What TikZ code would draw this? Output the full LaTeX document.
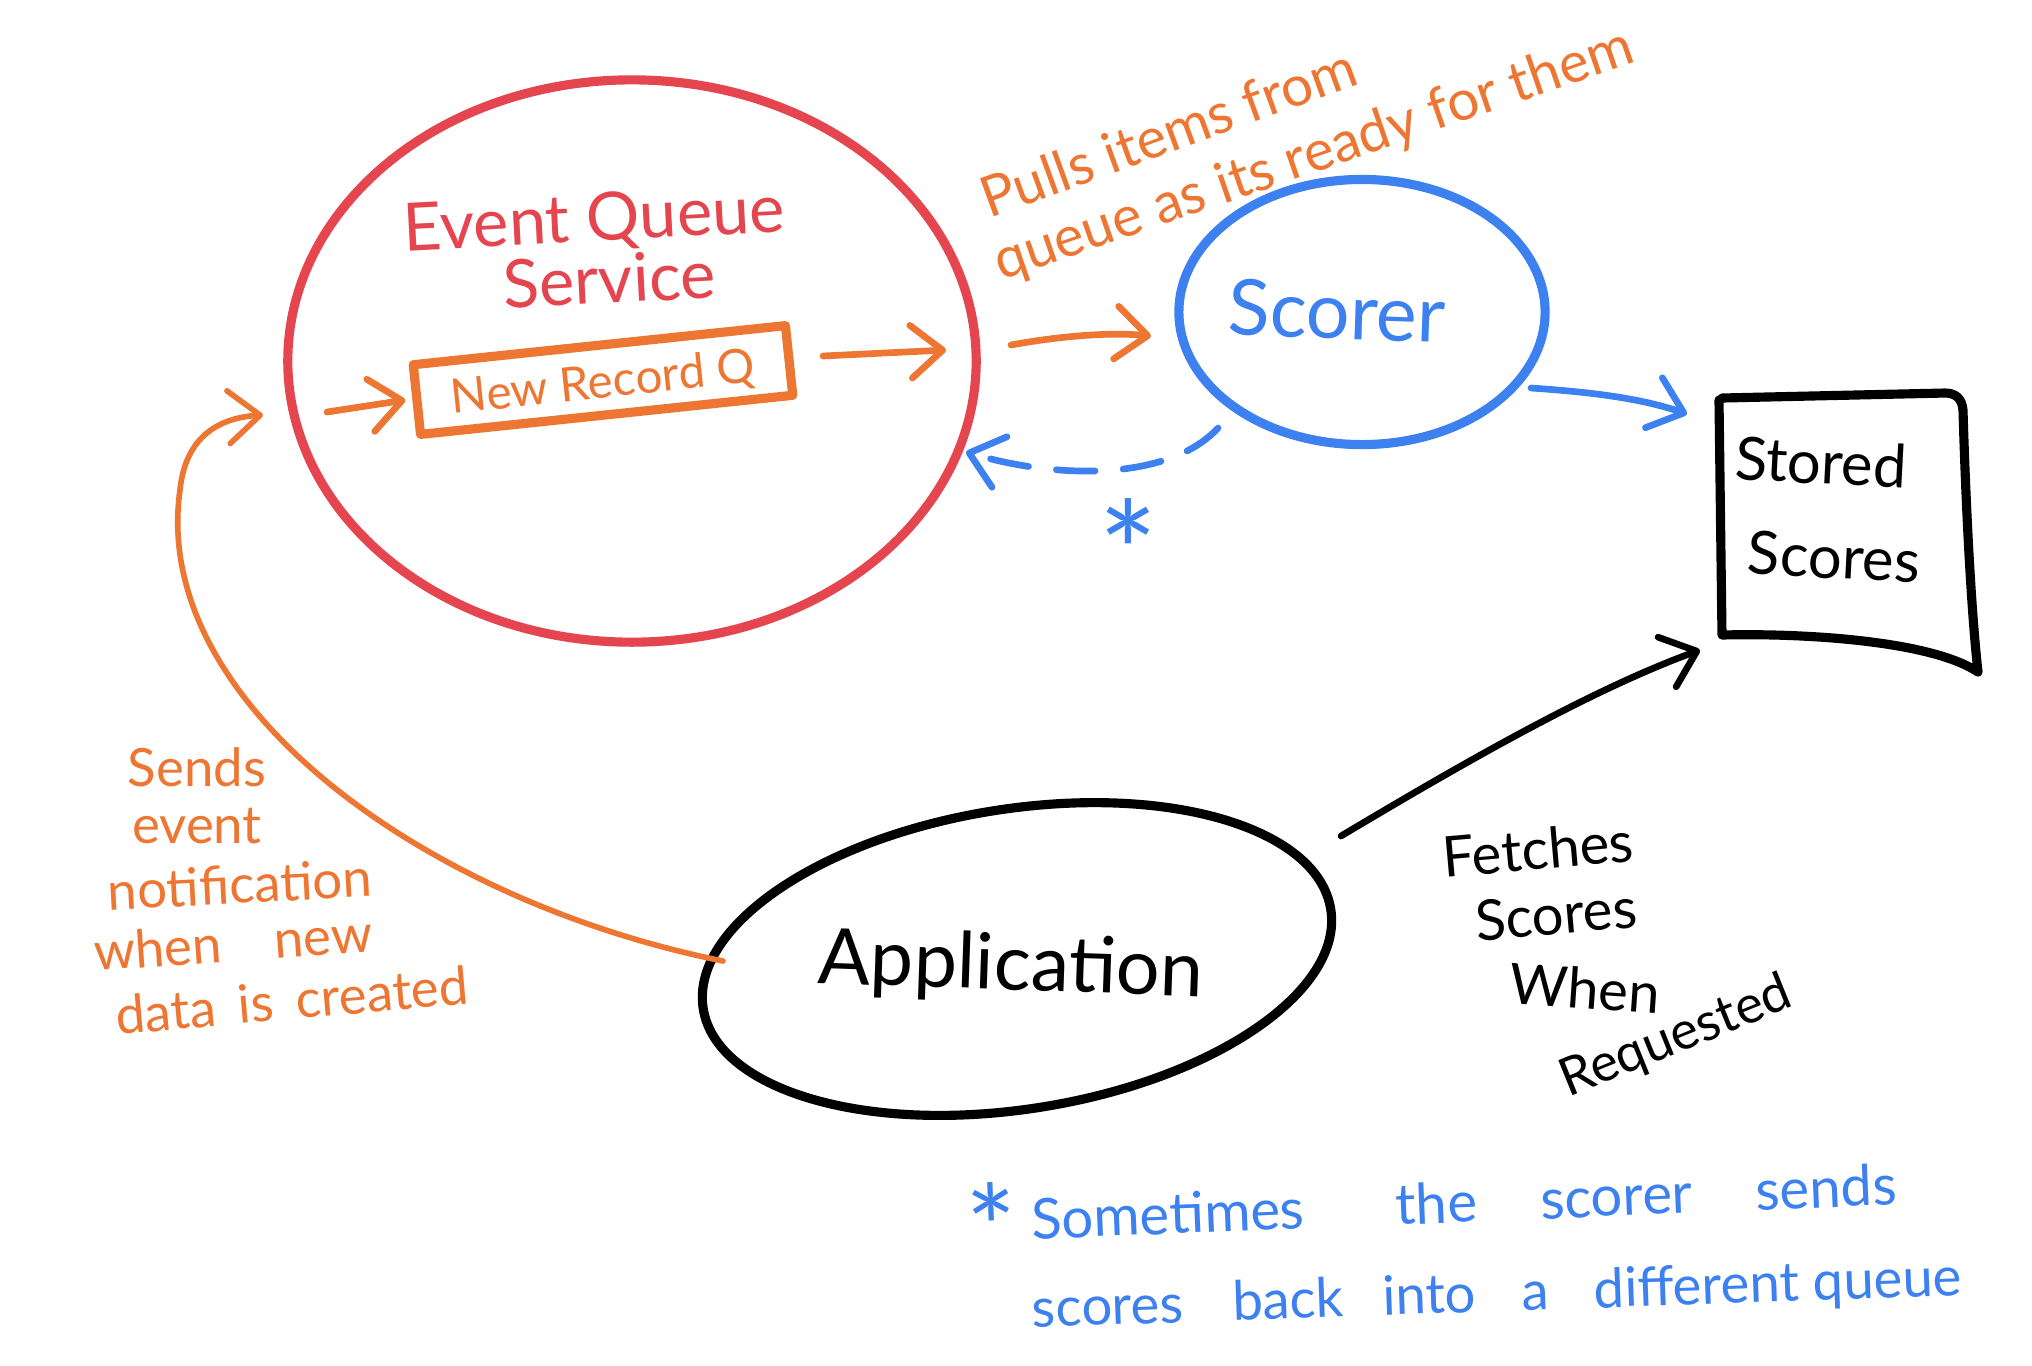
\documentclass[tikz,border=0pt]{standalone}
\usepackage{fontspec}
\setmainfont{Lato}
\usetikzlibrary{arrows.meta,shapes.geometric}
\definecolor{qred}{HTML}{E5454F}
\definecolor{qorange}{HTML}{EE7633}
\definecolor{qblue}{HTML}{3D81F0}
\tikzset{
  shapeline/.style={line width=2.6pt, line cap=round, line join=round},
  arrowline/.style={line width=1.9pt, line cap=round, line join=round,
    -{Straight Barb[length=9pt,width=15pt,line cap=round,line join=round]}},
  lbl/.style={inner sep=0pt, font=#1},
}
\begin{document}
\begin{tikzpicture}[x=0.01cm,y=-0.01cm]
\useasboundingbox[fill=white] (0,0) rectangle (2032,1365);

% ---- main shapes ----
\node[ellipse, draw=qred, shapeline, minimum width=6.88cm, minimum height=5.62cm] (eqs) at (632,361) {};
\node[draw=qorange, shapeline, rotate=6, minimum width=3.74cm, minimum height=0.70cm, inner sep=0pt] (nrq) at (603,380) {};
\node[ellipse, draw=qblue, shapeline, minimum width=3.66cm, minimum height=2.65cm] (scorer) at (1362,312) {};
\node[ellipse, draw=black, shapeline, rotate=9, minimum width=6.35cm, minimum height=3.0cm] (app) at (1017,959) {};

% stored scores document
\node[minimum width=2.46cm, minimum height=2.40cm, inner sep=0pt] (ss) at (1840,515) {};
\draw[black, shapeline] (1719,400) -- (1722,635)
   .. controls (1800,633) and (1930,640) .. (1978,672)
   .. controls (1970,600) and (1965,480) .. (1963,410)
   .. controls (1962,398) and (1955,393) .. (1945,393) -- (1722,398);

% ---- texts ----
\node[lbl=\fontsize{19}{22}\selectfont, text=qred, rotate=3] (t1) at (594,222) {Event Queue};
\node[lbl=\fontsize{19}{22}\selectfont, text=qred, rotate=3] (t2) at (609,279) {Service};
\node[lbl=\fontsize{13.5}{16}\selectfont, text=qorange, rotate=6] (t3) at (603,384) {New Record Q};
\node[lbl=\fontsize{22}{26}\selectfont, text=qblue, rotate=-2] (t4) at (1337,311) {Scorer};
\node[lbl=\fontsize{16}{19}\selectfont, text=qorange, rotate=20] (t5) at (1168,132) {Pulls items from};
\node[lbl=\fontsize{16}{19}\selectfont, text=qorange, rotate=19] (t6) at (1314,156) {queue as its ready for them};
\node[lbl=\fontsize{17}{20}\selectfont, text=black, rotate=-3] (t7) at (1821,462) {Stored};
\node[lbl=\fontsize{17}{20}\selectfont, text=black, rotate=-3] (t8) at (1834,557) {Scores};
\node[lbl=\fontsize{22}{26}\selectfont, text=black, rotate=-2] (t9) at (1011,968) {Application};
\node[lbl=\fontsize{16}{19}\selectfont, text=black, rotate=5] (t10) at (1538,849) {Fetches};
\node[lbl=\fontsize{16}{19}\selectfont, text=black, rotate=5] (t11) at (1556,914) {Scores};
\node[lbl=\fontsize{16}{19}\selectfont, text=black, rotate=-4] (t12) at (1585,988) {When};
\node[lbl=\fontsize{15}{18}\selectfont, text=black, rotate=22] (t13) at (1676,1038) {Requested};
\node[lbl=\fontsize{15}{18}\selectfont, text=qorange] (t14) at (197,767) {Sends};
\node[lbl=\fontsize{15}{18}\selectfont, text=qorange] (t15) at (197,826) {event};
\node[lbl=\fontsize{15}{18}\selectfont, text=qorange, rotate=3] (t16) at (240,884) {notification};
\node[lbl=\fontsize{15}{18}\selectfont, text=qorange, rotate=4] (t17) at (233,942) {when\quad new};
\node[lbl=\fontsize{15}{18}\selectfont, text=qorange, rotate=5] (t18) at (292,1000) {data\, is\, created};
\node[lbl=\fontsize{16}{19}\selectfont, text=qblue, rotate=2.3] (t19) at (1432,1210)
  {\raisebox{-9pt}{\fontsize{34}{34}\selectfont *}\hspace{4pt}Sometimes\hspace{26pt}the\hspace{18pt}scorer\hspace{18pt}sends};
\node[lbl=\fontsize{15.5}{19}\selectfont, text=qblue, rotate=2] (t20) at (1497,1296)
  {scores\hspace{14pt}back\hspace{11pt}into\hspace{13pt}a\hspace{13pt}different queue};
\node[lbl=\fontsize{40}{40}\selectfont, text=qblue] (ast) at (1128,552) {*};

% ---- connectors ----
\coordinate (in1) at (327,412);
\draw[qorange, arrowline] (in1) -- ([xshift=-2pt]nrq.west);
\coordinate (o1s) at (823,356);
\coordinate (o1e) at (946,350);
\draw[qorange, arrowline] (o1s) -- (o1e);
\coordinate (o2s) at (1011,345);
\coordinate (o2e) at (1151,336);
\draw[qorange, arrowline] (o2s) .. controls (1060,336) and (1110,332) .. (o2e);

\coordinate (b1s) at (1531,388);
\coordinate (b1e) at (1687,414);
\draw[qblue, arrowline] (b1s) .. controls (1590,392) and (1640,398) .. (b1e);

\coordinate (d1s) at (1218,428);
\coordinate (d1e) at (966,452);
\draw[qblue, arrowline, dash pattern=on 11pt off 8pt] (d1s) .. controls (1170,480) and (1060,480) .. (d1e);

\coordinate (k1s) at (1341,836);
\coordinate (k1e) at (1700,650);
\draw[black, arrowline] (k1s) .. controls (1460,765) and (1590,690) .. (k1e);

\coordinate (a1s) at (723,961);
\coordinate (a1e) at (263,415);
\draw[qorange, arrowline, line width=1.6pt] (a1s) .. controls (420,900) and (150,700) .. (180,490)
   .. controls (185,440) and (215,418) .. (a1e);
\end{tikzpicture}
\end{document}
